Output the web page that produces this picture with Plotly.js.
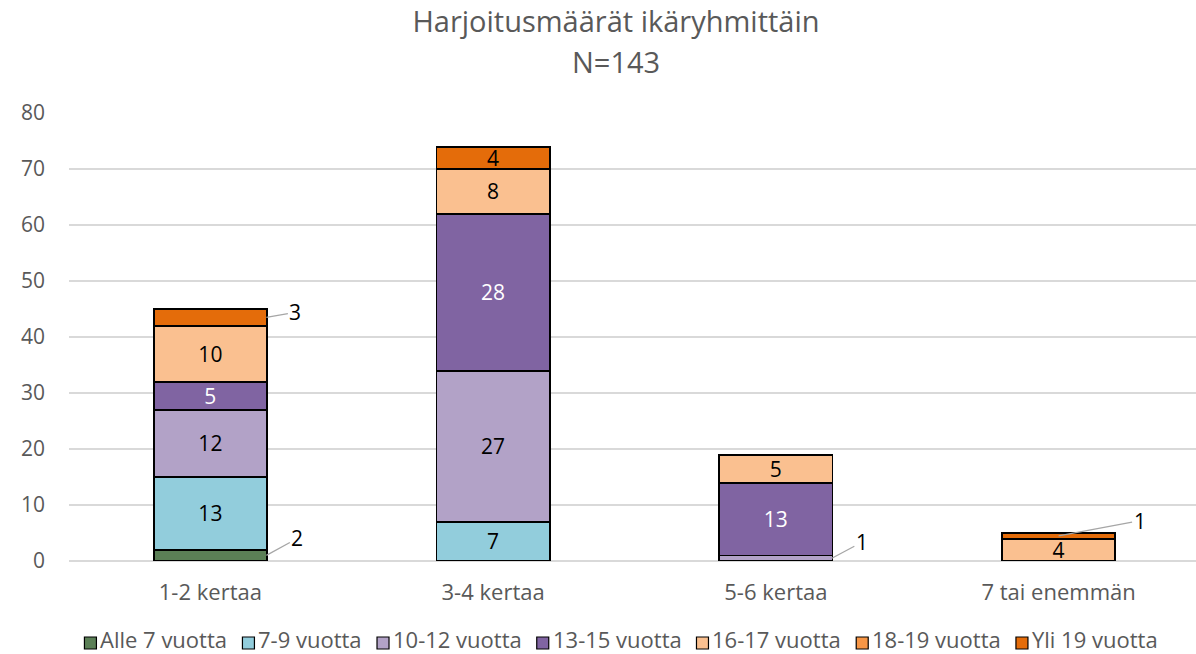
<!DOCTYPE html>
<html>
<head>
<meta charset="utf-8">
<script src="https://cdn.plot.ly/plotly-3.0.1.min.js"></script>
<style>
  html, body { margin: 0; padding: 0; background: #ffffff; }
  #chart { width: 1196px; height: 654px; }
</style>
</head>
<body>
<div id="chart"></div>
<script>
// ---- Data ----
const categories = ["1-2 kertaa", "3-4 kertaa", "5-6 kertaa", "7 tai enemmän"];
const seriesNames = ["Alle 7 vuotta", "7-9 vuotta", "10-12 vuotta", "13-15 vuotta", "16-17 vuotta", "18-19 vuotta", "Yli 19 vuotta"];
const alle7   = [2, 0, 0, 0];
const v7_9    = [13, 7, 0, 0];
const v10_12  = [12, 27, 1, 0];
const v13_15  = [5, 28, 13, 0];
const v16_17  = [10, 8, 5, 4];
const v18_19  = [0, 0, 0, 0];
const yli19   = [3, 4, 0, 1];
const yTicks  = [0, 10, 20, 30, 40, 50, 60, 70, 80];
const titleText = "Harjoitusmäärät ikäryhmittäin";
const subtitleText = "N=143";

// ---- Styles ----
const seriesValues = [alle7, v7_9, v10_12, v13_15, v16_17, v18_19, yli19];
const colors = ["#5b7f56", "#92cddc", "#b2a2c7", "#8064a2", "#fac090", "#f79646", "#e46c0a"];
const labelColors = ["#000", "#000", "#000", "#ffffff", "#000", "#000", "#000"];
const FONT = "Open Sans";
const FONT_STACK = "Open Sans, Liberation Sans, Arial, sans-serif";
const GREY = "#595959";
const LABEL_MIN = 4; // smaller segments get an outside label with a leader line

// plot-area geometry (px)
const W = 1196, H = 654, ML = 69, MR = 0, MT = 113, MB = 93;
const PW = W - ML - MR, PH = H - MT - MB;
const px2x = p => (p - ML) / PW;
const py2y = p => 1 - (p - MT) / PH;

// outside-label offsets (pixel styling), keyed by "series|category index"
const outsideStyle = {
  "0|0": {xshift: 56, ax: 31, ay: -17},
  "6|0": {xshift: 56, ax: 29, ay: -5},
  "2|2": {xshift: 56, ax: 30, ay: -16},
  "6|3": {xshift: 0,  ax: 81, ay: -15}
};

const traces = seriesValues.map((vals, s) => ({
  type: "bar",
  name: seriesNames[s],
  x: categories,
  y: vals.map(v => v === 0 ? null : v),
  text: vals.map(v => (v >= LABEL_MIN ? String(v) : "")),
  textposition: "inside",
  insidetextanchor: "middle",
  textangle: 0,
  constraintext: "none",
  insidetextfont: {family: FONT_STACK, size: 21, color: labelColors[s]},
  marker: {color: colors[s], line: {color: "#000000", width: 1.8}},
  hoverinfo: "skip",
  showlegend: false
}));

// outside labels for small segments, placed at segment midpoints
const annotations = [];
categories.forEach((cat, c) => {
  let cum = 0;
  seriesValues.forEach((vals, s) => {
    const v = vals[c];
    if (v > 0 && v < LABEL_MIN) {
      const st = outsideStyle[s + "|" + c] || {xshift: 56, ax: 30, ay: -12};
      annotations.push({
        x: cat, y: cum + v / 2, xref: "x", yref: "y",
        text: String(v), showarrow: true, arrowhead: 0, arrowwidth: 1.3,
        arrowcolor: "#a6a6a6", standoff: 0, startstandoff: 0,
        ax: st.ax, ay: st.ay, xshift: st.xshift,
        font: {family: FONT_STACK, size: 21, color: "#000"}
      });
    }
    cum += v;
  });
});

annotations.push({
  text: subtitleText, xref: "paper", yref: "paper",
  x: px2x(616), y: py2y(62),
  xanchor: "center", yanchor: "middle", showarrow: false,
  font: {family: FONT_STACK, size: 29, color: GREY}
});

// ---- custom legend (compact symbol spacing like the original) ----
const LEG_SIZE = 22, SYM = 12, SYM_GAP = 4, ENTRY_GAP = 15, LEG_CY = 639, LEG_CX = 621;
const ctx = document.createElement("canvas").getContext("2d");
ctx.font = LEG_SIZE + "px '" + FONT + "'";
const textW = seriesNames.map(n => ctx.measureText(n).width);
const entryW = textW.map(w => SYM + SYM_GAP + w);
const totalW = entryW.reduce((a, b) => a + b, 0) + ENTRY_GAP * (seriesNames.length - 1);
const shapes = [];
let cx = LEG_CX - totalW / 2;
seriesNames.forEach((n, s) => {
  shapes.push({
    type: "rect", xref: "paper", yref: "paper", layer: "above",
    x0: px2x(cx), x1: px2x(cx + SYM), y0: py2y(LEG_CY + 4 + SYM / 2), y1: py2y(LEG_CY + 4 - SYM / 2),
    fillcolor: colors[s], line: {color: "#000000", width: 1.2}
  });
  annotations.push({
    text: n, xref: "paper", yref: "paper",
    x: px2x(cx + SYM + SYM_GAP - 1), y: py2y(LEG_CY),
    xanchor: "left", yanchor: "middle", showarrow: false, borderpad: 0,
    font: {family: FONT_STACK, size: LEG_SIZE, color: GREY}
  });
  cx += entryW[s] + ENTRY_GAP;
});

const layout = {
  width: W, height: H,
  margin: {l: ML, r: MR, t: MT, b: MB},
  paper_bgcolor: "#ffffff", plot_bgcolor: "#ffffff",
  barmode: "stack", bargap: 0.6,
  font: {family: FONT_STACK, color: GREY, size: 21},
  title: {
    text: titleText, xref: "container", yref: "container",
    x: 616 / W, xanchor: "center", y: 1 - 22 / H, yanchor: "middle",
    font: {family: FONT_STACK, size: 29, color: GREY}
  },
  xaxis: {
    type: "category", range: [-0.5, 3.486], automargin: false,
    showline: false, showgrid: false, zeroline: false,
    ticks: "", ticklabelstandoff: 16,
    tickfont: {family: FONT_STACK, size: 22, color: GREY}
  },
  yaxis: {
    range: [0, 80], tickvals: yTicks, ticktext: yTicks.map(String), automargin: false,
    showgrid: true, gridcolor: "#d9d9d9", gridwidth: 1.5,
    zeroline: true, zerolinecolor: "#d9d9d9", zerolinewidth: 1.5,
    showline: false, ticks: "", ticklabelstandoff: 23,
    tickfont: {family: FONT_STACK, size: 21, color: GREY}
  },
  annotations: annotations,
  shapes: shapes,
  showlegend: false
};

Plotly.newPlot("chart", traces, layout, {displayModeBar: false, staticPlot: true});
</script>
</body>
</html>
